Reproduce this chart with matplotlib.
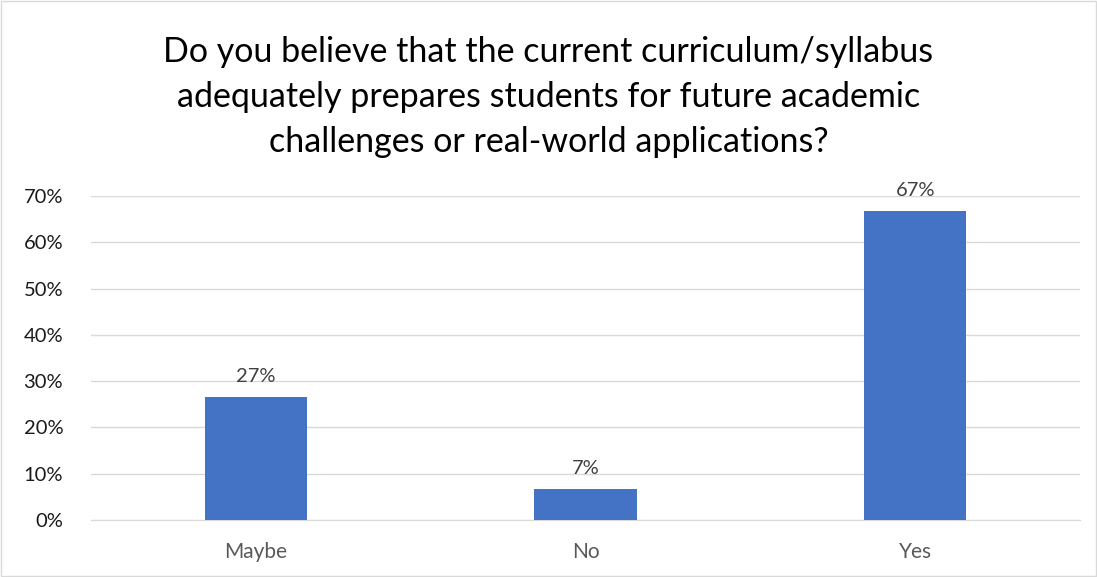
import matplotlib.pyplot as plt
import numpy as np

categories = ['Maybe', 'No', 'Yes']
shares = [26.67, 6.67, 66.67]
labels = ['27%', '7%', '67%']
yticks = [0, 10, 20, 30, 40, 50, 60, 70]

plt.rcParams['font.family'] = ['Lato', 'DejaVu Sans']

fig = plt.figure(figsize=(10.97, 5.77), dpi=100)
ax = fig.add_axes([91 / 1097, 1 - 520 / 577, (1080 - 91) / 1097, (520 - 196) / 577])

x = np.arange(len(categories))
ax.bar(x, shares, width=0.31, color='#4472C4', zorder=3)
for xi, v, lab in zip(x, shares, labels):
    ax.text(xi, v + 2.6, lab, ha='center', va='bottom', fontsize=14.5, color='#404040')

ax.set_xlim(-0.5, 2.5)
ax.set_ylim(0, 70)
ax.set_yticks(yticks)
ax.set_yticklabels([f'{t}%' for t in yticks], fontsize=14.5, color='#1a1a1a')
ax.set_xticks(x)
ax.set_xticklabels(categories, fontsize=15, color='#595959')
ax.tick_params(axis='y', length=0, pad=20)
ax.tick_params(axis='x', length=0, pad=16)
ax.grid(axis='y', color='#d9d9d9', linewidth=1, zorder=0)
for s in ['top', 'right', 'left']:
    ax.spines[s].set_visible(False)
ax.spines['bottom'].set_color('#d9d9d9')

fig.text(0.5, 1 - 97 / 577, 'Do you believe that the current curriculum/syllabus\n'
         'adequately prepares students for future academic\n'
         'challenges or real-world applications?',
         ha='center', va='center', fontsize=24.5, color='#000000', linespacing=1.5)

fig.patches.append(plt.Rectangle((0.001, 0.001), 0.998, 0.998, transform=fig.transFigure,
                                 fill=False, edgecolor='#d9d9d9', linewidth=1))

fig.savefig('out.png', dpi=100)
